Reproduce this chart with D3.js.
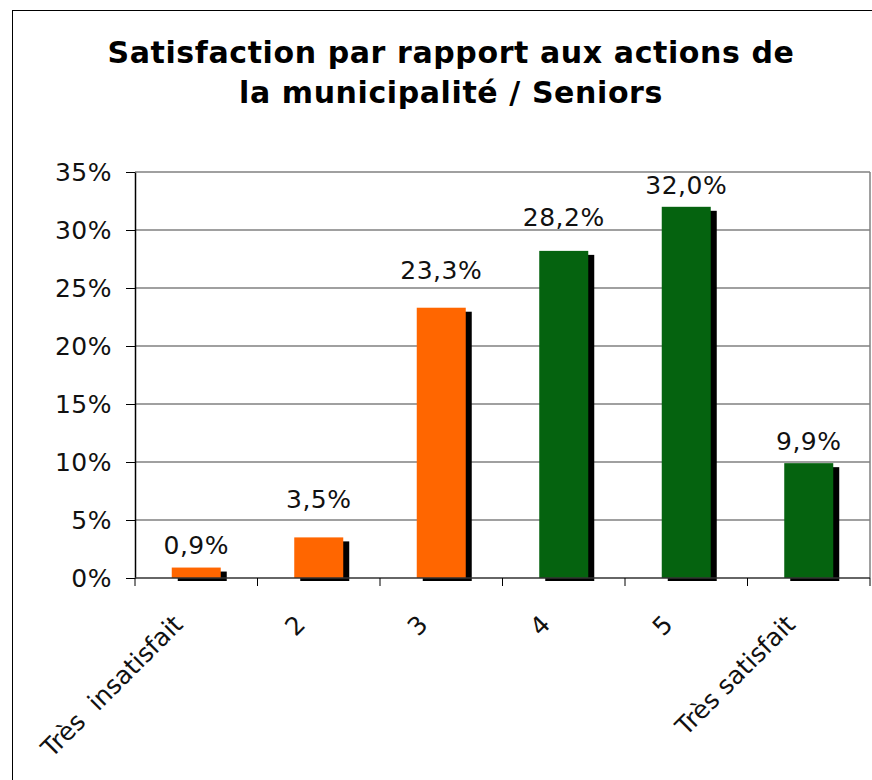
<!DOCTYPE html>
<html>
<head>
<meta charset="utf-8">
<script src="https://cdn.jsdelivr.net/npm/d3@7"></script>
<style>
	body { margin: 0; background: #fff; }
	text { font-family: "DejaVu Sans", Verdana, sans-serif; }
</style>
</head>
<body>
<svg width="872" height="780"></svg>
<script>
// donnees
var categories = ["Très  insatisfait", "2", "3", "4", "5", "Très satisfait"];
var values = [0.009, 0.035, 0.233, 0.282, 0.320, 0.099];
var barColors = ["#FF6600", "#FF6600", "#FF6600", "#05630F", "#05630F", "#05630F"];
var labelGap = [14, 29, 29, 25, 13, 13];
var yTicks = [0, 0.05, 0.10, 0.15, 0.20, 0.25, 0.30, 0.35];
var titleLines = ["Satisfaction par rapport aux actions de", "la municipalité / Seniors"];

var m = {top:172, right:2, bottom:202, left:135};
var W = 872, H = 780;

var mySvg = d3.select("svg");

// cadre du graphique
mySvg.append("rect")
	.attr("x", 12.5).attr("y", 10.5)
	.attr("width", 900).attr("height", 800)
	.attr("fill", "none").attr("stroke", "#000").attr("stroke-width", 1);

mySvg.append("g").selectAll("text")
	.data(titleLines)
	.enter()
	.append("text")
	.attr("x", 451)
	.attr("y", (d,i) => 63 + i*40)
	.attr("text-anchor", "middle")
	.attr("font-size", 30)
	.attr("font-weight", "bold")
	.attr("letter-spacing", 0.6)
	.text(d => d);

var x = d3.scaleBand().domain(categories).range([m.left, W - m.right]).paddingInner(0.6).paddingOuter(0.3);
var y = d3.scaleLinear().domain([0, 0.35]).range([H - m.bottom, m.top]);

var pct = d3.formatLocale({decimal:",", thousands:" ", grouping:[3], currency:["","€"]});
var fmtLabel = pct.format(".1%");
var fmtTick = pct.format(".0%");

// grille
var grid = mySvg.append("g");
grid.selectAll("line")
	.data(yTicks.slice(1))
	.enter()
	.append("line")
	.attr("x1", m.left).attr("x2", W - m.right)
	.attr("y1", d => y(d)).attr("y2", d => y(d))
	.attr("stroke", "#808080").attr("stroke-width", 1.5);
grid.append("line")
	.attr("x1", W - m.right).attr("x2", W - m.right)
	.attr("y1", y(0.35)).attr("y2", y(0))
	.attr("stroke", "#808080").attr("stroke-width", 1.5);

// ombres puis barres
var bars = mySvg.append("g");
bars.selectAll(".shadow")
	.data(values)
	.enter()
	.append("rect")
	.attr("class", "shadow")
	.attr("x", (d,i) => x(categories[i]) + 6)
	.attr("y", d => y(d) + 4)
	.attr("width", x.bandwidth())
	.attr("height", d => y(0) - y(d) - 1)
	.attr("fill", "#000");
bars.selectAll(".bar")
	.data(values)
	.enter()
	.append("rect")
	.attr("class", "bar")
	.attr("x", (d,i) => x(categories[i]))
	.attr("y", d => y(d))
	.attr("width", x.bandwidth())
	.attr("height", d => y(0) - y(d))
	.attr("fill", (d,i) => barColors[i]);

bars.selectAll(".lbl")
	.data(values)
	.enter()
	.append("text")
	.attr("class", "lbl")
	.attr("x", (d,i) => x(categories[i]) + x.bandwidth()/2)
	.attr("y", (d,i) => y(d) - labelGap[i])
	.attr("text-anchor", "middle")
	.attr("font-size", 25)
	.attr("letter-spacing", 0.5)
	.attr("fill", "#111")
	.text(d => fmtLabel(d));

// axe Y
var yAxis = d3.axisLeft(y).tickValues(yTicks).tickFormat(fmtTick).tickSizeInner(9).tickSizeOuter(0).tickPadding(14);
var yAxisGroup = mySvg.append("g")
	.attr("transform", "translate(" + m.left + ",0)")
	.call(yAxis);
yAxisGroup.select(".domain").attr("stroke", "#000").attr("stroke-width", 1.5);
yAxisGroup.selectAll(".tick line").attr("stroke", "#000").attr("stroke-width", 1);
yAxisGroup.selectAll("text").attr("font-size", 25).attr("font-family", "DejaVu Sans").attr("fill", "#111").attr("letter-spacing", 0.5);

// axe X
var step = x.step();
var xBounds = d3.range(categories.length + 1).map(i => m.left + i*step);
var xAxisGroup = mySvg.append("g");
xAxisGroup.append("line")
	.attr("x1", m.left).attr("x2", W - m.right)
	.attr("y1", y(0)).attr("y2", y(0))
	.attr("stroke", "#333").attr("stroke-width", 1.5);
xAxisGroup.selectAll(".xt")
	.data(xBounds)
	.enter()
	.append("line")
	.attr("class", "xt")
	.attr("x1", d => d).attr("x2", d => d)
	.attr("y1", y(0)).attr("y2", y(0) + 8)
	.attr("stroke", "#000").attr("stroke-width", 1);
xAxisGroup.selectAll(".xl")
	.data(categories)
	.enter()
	.append("text")
	.attr("class", "xl")
	.attr("transform", d => "translate(" + (x(d) + x.bandwidth()/2 - 12) + "," + (y(0) + 48) + ") rotate(-45)")
	.attr("text-anchor", "end")
	.attr("font-size", 25)
	.attr("fill", "#111")
	.style("white-space", "pre")
	.text(d => d);
</script>
</body>
</html>
